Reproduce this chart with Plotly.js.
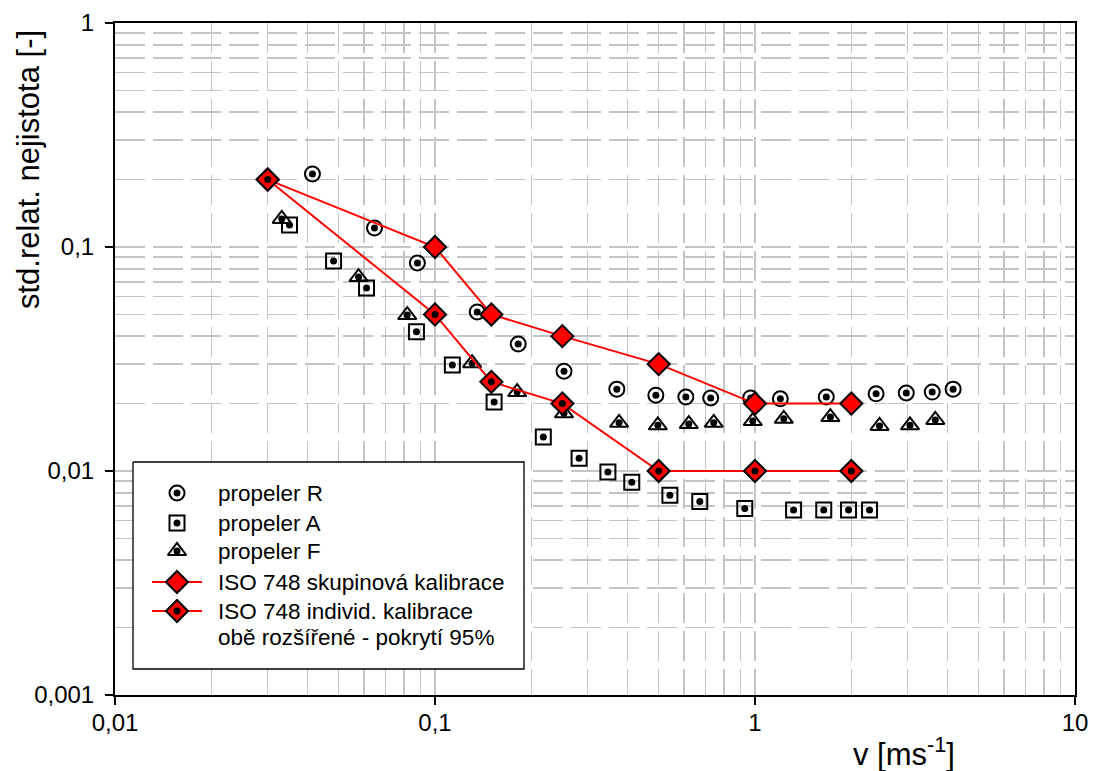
<!DOCTYPE html>
<html>
<head>
<meta charset="utf-8">
<script src="https://cdn.plot.ly/plotly-3.0.1.min.js"></script>
<style>html,body{margin:0;padding:0;background:#fff;}#chart{width:1094px;height:771px;}</style>
</head>
<body>
<div id="chart"></div>
<script>
// ---- data ----
var vR = [0.0414,0.0647,0.0881,0.1355,0.182,0.253,0.370,0.490,0.608,0.727,0.969,1.20,1.67,2.39,2.97,3.58,4.16];
var uR = [0.212,0.1216,0.0849,0.0513,0.0369,0.0279,0.0232,0.0218,0.0214,0.0212,0.0212,0.0210,0.0214,0.0221,0.0223,0.0225,0.0232];

var vA = [0.0351,0.0482,0.0611,0.0875,0.1133,0.153,0.218,0.282,0.347,0.412,0.542,0.672,0.929,1.32,1.64,1.96,2.28];
var uA = [0.1253,0.0866,0.0656,0.0418,0.0297,0.0203,0.0142,0.0114,0.0099,0.0089,0.0078,0.0073,0.0068,0.0067,0.0067,0.0067,0.0067];

var vF = [0.0332,0.0577,0.0819,0.1306,0.1806,0.253,0.376,0.497,0.621,0.743,0.984,1.23,1.72,2.45,3.05,3.66];
var uF = [0.1334,0.0734,0.0497,0.0303,0.0225,0.0181,0.0164,0.0160,0.0162,0.0164,0.0167,0.0171,0.0174,0.0159,0.0160,0.0169];

var vISO = [0.03,0.1,0.15,0.25,0.5,1,2];
var uGroup = [0.2,0.1,0.05,0.04,0.03,0.02,0.02];
var uIndiv = [0.2,0.05,0.025,0.02,0.01,0.01,0.01];

var xTickVals = [0.01,0.1,1,10];
var xTickText = ['0,01','0,1','1','10'];
var yTickVals = [0.001,0.01,0.1,1];
var yTickText = ['0,001','0,01','0,1','1'];

var legendLabels = ['propeler R','propeler A','propeler F','ISO 748 skupinová kalibrace','ISO 748 individ. kalibrace','obě rozšířené - pokrytí 95%'];
var xTitle = 'v [ms<sup>-1</sup>]';
var yTitle = 'std.relat. nejistota [-]';

// ---- styling ----
var FONT = 'Arial, "Liberation Sans", sans-serif';
var RED = '#ff0000';
var GRID = '#c4c4c4';
var DASH = '30px,8px';

function minorVals(lo, hi) {
  var out = [];
  for (var d = lo; d < hi; d++) {
    for (var k = 2; k <= 9; k++) out.push(k * Math.pow(10, d));
  }
  return out;
}

var SIZES = {'circle-open': 15, 'square-open': 15, 'triangle-up-open': 16};
function openTrace(x, y, sym, xa, ya) {
  return {x: x, y: y, xaxis: xa || 'x', yaxis: ya || 'y', type: 'scatter', mode: 'markers', showlegend: false, hoverinfo: 'skip',
    marker: {symbol: sym, size: SIZES[sym], color: '#000', line: {color: '#000', width: 2}}};
}
function dotTrace(x, y, xa, ya) {
  return {x: x, y: y, xaxis: xa || 'x', yaxis: ya || 'y', type: 'scatter', mode: 'markers', showlegend: false, hoverinfo: 'skip',
    marker: {symbol: 'circle', size: 7, color: '#000', line: {width: 0}}};
}
function isoTrace(x, y, xa, ya) {
  return {x: x, y: y, xaxis: xa || 'x', yaxis: ya || 'y', type: 'scatter', mode: 'lines+markers', showlegend: false, hoverinfo: 'skip',
    line: {color: RED, width: 2},
    marker: {symbol: 'diamond', size: 17, color: RED, line: {color: '#000', width: 2}}};
}

var traces = [
  openTrace(vR, uR, 'circle-open'), dotTrace(vR, uR),
  openTrace(vA, uA, 'square-open'), dotTrace(vA, uA),
  openTrace(vF, uF, 'triangle-up-open'), dotTrace(vF, uF),
  isoTrace(vISO, uGroup),
  isoTrace(vISO, uIndiv), dotTrace(vISO, uIndiv)
];

// ---- legend drawn on an overlay axis pair measured in pixels ----
var LB = {x0: 133, x1: 524, y0: 462, y1: 669};
var symX = 177, lineX0 = 152, lineX1 = 202, textX = 216;
var rowY = [493, 523, 551, 582, 611, 637];

traces.push({x: [LB.x0, LB.x1, LB.x1, LB.x0, LB.x0], y: [LB.y0, LB.y0, LB.y1, LB.y1, LB.y0],
  xaxis: 'x2', yaxis: 'y2', type: 'scatter', mode: 'lines', fill: 'toself', fillcolor: '#fff',
  line: {color: '#000', width: 1.3}, showlegend: false, hoverinfo: 'skip'});
traces.push(openTrace([symX], [rowY[0]], 'circle-open', 'x2', 'y2'), dotTrace([symX], [rowY[0]], 'x2', 'y2'));
traces.push(openTrace([symX], [rowY[1]], 'square-open', 'x2', 'y2'), dotTrace([symX], [rowY[1]], 'x2', 'y2'));
traces.push(openTrace([symX], [rowY[2]], 'triangle-up-open', 'x2', 'y2'), dotTrace([symX], [rowY[2]], 'x2', 'y2'));
traces.push({x: [lineX0, lineX1], y: [rowY[3], rowY[3]], xaxis: 'x2', yaxis: 'y2', mode: 'lines', line: {color: RED, width: 2}, showlegend: false, hoverinfo: 'skip'});
traces.push(isoTrace([symX], [rowY[3]], 'x2', 'y2'));
traces.push({x: [lineX0, lineX1], y: [rowY[4], rowY[4]], xaxis: 'x2', yaxis: 'y2', mode: 'lines', line: {color: RED, width: 2}, showlegend: false, hoverinfo: 'skip'});
traces.push(isoTrace([symX], [rowY[4]], 'x2', 'y2'), dotTrace([symX], [rowY[4]], 'x2', 'y2'));

var annotations = legendLabels.map(function (t, i) {
  return {text: t, x: textX, y: rowY[i], xref: 'x2', yref: 'y2', xanchor: 'left', yanchor: 'middle',
    showarrow: false, font: {family: FONT, size: 22.5, color: '#000'}};
});
annotations.push({text: xTitle, xref: 'paper', yref: 'paper', x: (904 - 115) / 960, y: -(752 - 695) / 672,
  xanchor: 'center', yanchor: 'middle', showarrow: false, font: {family: FONT, size: 31, color: '#000'}});
annotations.push({text: yTitle, xref: 'paper', yref: 'paper', x: (28 - 115) / 960, y: (695 - 170) / 672,
  xanchor: 'center', yanchor: 'middle', textangle: -90, showarrow: false, font: {family: FONT, size: 31, color: '#000'}});

var axisCommon = {
  showline: true, linecolor: '#000', linewidth: 2, mirror: true,
  ticks: 'outside', ticklen: 8, tickwidth: 1.5, tickcolor: '#000',
  showgrid: true, gridcolor: GRID, gridwidth: 1.6, griddash: DASH,
  zeroline: false,
  tickfont: {family: FONT, size: 24, color: '#000'}
};

var layout = {
  width: 1094, height: 771,
  margin: {l: 115, r: 19, t: 23, b: 76, pad: 0},
  paper_bgcolor: '#fff', plot_bgcolor: '#fff',
  showlegend: false,
  xaxis: Object.assign({}, axisCommon, {
    type: 'log', range: [-2, 1], tickmode: 'array', tickvals: xTickVals, ticktext: xTickText,
    ticklabelstandoff: -3,
    minor: {tickmode: 'array', tickvals: minorVals(-2, 1), showgrid: true, gridcolor: GRID, gridwidth: 1.6, griddash: DASH, ticks: ''}
  }),
  yaxis: Object.assign({}, axisCommon, {
    type: 'log', range: [-3, 0], tickmode: 'array', tickvals: yTickVals, ticktext: yTickText,
    ticklabelstandoff: 6,
    minor: {tickmode: 'array', tickvals: minorVals(-3, 0), showgrid: true, gridcolor: GRID, gridwidth: 1.6, griddash: DASH, ticks: ''}
  }),
  xaxis2: {overlaying: 'x', anchor: 'y2', range: [115, 1075], visible: false, fixedrange: true},
  yaxis2: {overlaying: 'y', anchor: 'x2', range: [695, 23], visible: false, fixedrange: true},
  annotations: annotations
};

Plotly.newPlot('chart', traces, layout, {displayModeBar: false, staticPlot: true});
</script>
</body>
</html>
